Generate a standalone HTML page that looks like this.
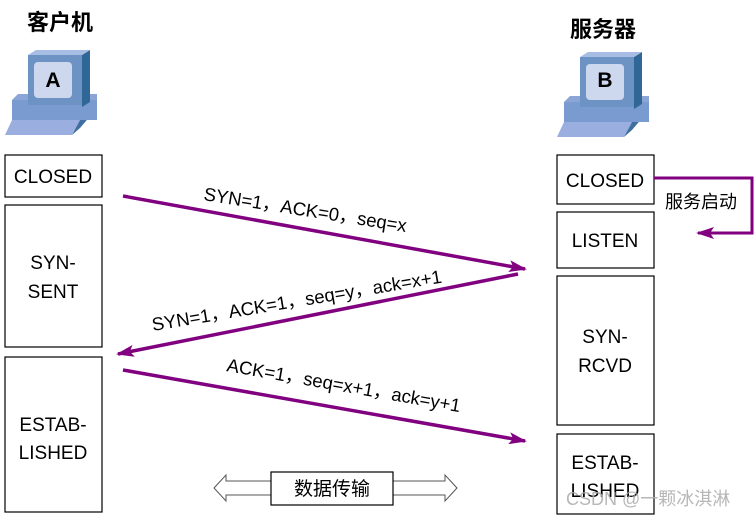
<!DOCTYPE html>
<html><head><meta charset="utf-8"><style>
html,body{margin:0;padding:0;background:#fff;}
svg{display:block;}
text{font-family:"Liberation Sans","Noto Sans CJK SC",sans-serif;}
</style></head><body>
<svg width="755" height="518" viewBox="0 0 755 518" xmlns="http://www.w3.org/2000/svg">
<defs>
<marker id="ah" markerWidth="18" markerHeight="12" refX="16" refY="6" orient="auto" markerUnits="userSpaceOnUse" viewBox="0 0 18 12">
<path d="M0,0 L18,6 L0,12 L4,6 Z" fill="#800080"/></marker>
<g id="pc">
<polygon points="12,120 80,120 72,135 5,135" fill="#9aaedf"/>
<polygon points="80,120 97,100 97,108 80,128 72,135" fill="#3f6fa0"/>
<rect x="12" y="100" width="85" height="20" fill="#7a9bd0"/>
<polygon points="12,100 97,100 97,94 18,94" fill="#8aa5d6"/>
<polygon points="82,55 90,50 90,102 82,107" fill="#2f6796"/>
<polygon points="28,55 82,55 90,50 36,50" fill="#a8bde4"/>
<rect x="28" y="55" width="54" height="50" fill="#6d93c4"/>
<rect x="34" y="62" width="38" height="36" rx="4" fill="#cdd8ef"/>
</g>
</defs>
<text x="60" y="30" font-size="22" font-weight="bold" text-anchor="middle">客户机</text>
<text x="603" y="37" font-size="22" font-weight="bold" text-anchor="middle">服务器</text>
<use href="#pc"/><text x="53" y="87" font-size="21" font-weight="bold" text-anchor="middle">A</text>
<g transform="translate(552,2)"><use href="#pc"/><text x="53" y="85" font-size="21" font-weight="bold" text-anchor="middle">B</text></g>
<g fill="#fff" stroke="#000" stroke-width="1.2">
<rect x="5" y="155" width="97" height="42"/>
<rect x="5" y="205" width="97" height="142"/>
<rect x="5" y="357" width="97" height="155"/>
<rect x="557" y="155" width="97" height="49"/>
<rect x="557" y="212" width="97" height="56"/>
<rect x="557" y="276" width="97" height="149"/>
<rect x="557" y="434" width="97" height="80"/>
</g>
<g font-size="19" text-anchor="middle" fill="#000">
<text x="53" y="183">CLOSED</text>
<text x="53" y="269">SYN-</text><text x="53" y="298">SENT</text>
<text x="53" y="431">ESTAB-</text><text x="53" y="459">LISHED</text>
<text x="605" y="187">CLOSED</text>
<text x="605" y="247">LISTEN</text>
<text x="605" y="343">SYN-</text><text x="605" y="372">RCVD</text>
<text x="605" y="469">ESTAB-</text><text x="605" y="497">LISHED</text>
</g>
<g stroke="#800080" stroke-width="3.5" fill="none">
<line x1="123" y1="196" x2="525" y2="269" marker-end="url(#ah)"/>
<line x1="518" y1="274" x2="118" y2="354" marker-end="url(#ah)"/>
<line x1="123" y1="370" x2="525" y2="441" marker-end="url(#ah)"/>
<polyline points="654,178 752,178 752,233 698,233" marker-end="url(#ah)" stroke-width="3"/>
</g>
<text x="665" y="208" font-size="18">服务启动</text>
<g font-size="18.5" fill="#000">
<text transform="translate(203,200) rotate(9)">SYN=1，ACK=0，seq=x</text>
<text transform="translate(153,331) rotate(-9.5)">SYN=1，ACK=1，seq=y，ack=x+1</text>
<text transform="translate(226,371) rotate(10)">ACK=1，seq=x+1，ack=y+1</text>
</g>
<g fill="#fff" stroke="#555" stroke-width="1">
<path d="M214,488 L226,475 L226,481 L271,481 L271,495 L226,495 L226,501 Z"/>
<path d="M457,488 L445,475 L445,481 L393,481 L393,495 L445,495 L445,501 Z"/>
</g>
<rect x="271" y="472" width="122" height="33" fill="#fff" stroke="#000" stroke-width="1.2"/>
<text x="332" y="495" font-size="19" text-anchor="middle">数据传输</text>
<text x="566" y="505" font-size="18" fill="#aaa" fill-opacity="0.85">CSDN @一颗冰淇淋</text>
</svg>
</body></html>
